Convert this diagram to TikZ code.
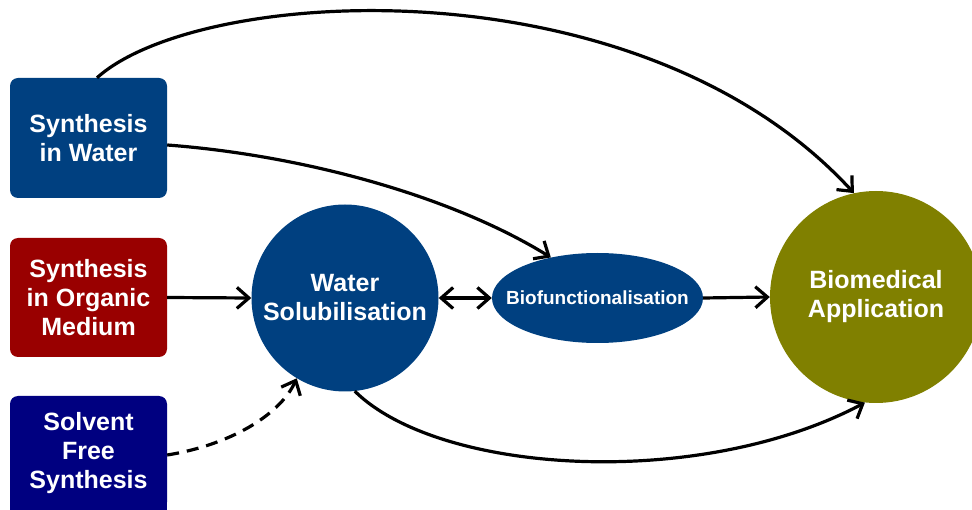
\documentclass[tikz,border=0pt]{standalone}
\usepackage{fontspec}
\setmainfont{Liberation Sans}
\usetikzlibrary{shapes.geometric,arrows.meta}
\definecolor{wblue}{RGB}{0,64,128}
\definecolor{ored}{RGB}{153,0,0}
\definecolor{snavy}{RGB}{0,0,128}
\definecolor{bolive}{RGB}{128,128,0}
\tikzset{
  txt/.style={text=white,font=\fontsize{25}{29}\selectfont\bfseries,align=center},
  srcbox/.style={txt,rectangle,rounded corners=8pt,minimum width=157pt,inner sep=0pt},
  bubble/.style={txt,circle,inner sep=0pt},
  tip/.tip={Straight Barb[length=12pt,width=21pt]},
  conn/.style={line width=3.2pt,black,-tip},
}
\begin{document}
\begin{tikzpicture}[x=1pt,y=1pt]
\useasboundingbox (0,0) rectangle (972,-510);
\clip (0,0) rectangle (972,-510);
% source boxes
\node[srcbox,fill=wblue,minimum height=120pt] (sw) at (88.5,-138) {Synthesis\\in Water};
\node[srcbox,fill=ored,minimum height=119pt] (so) at (88.5,-297.5) {Synthesis\\in Organic\\Medium};
\fill[snavy] (10,-460) rectangle (167,-515);
\node[srcbox,fill=snavy,minimum height=114pt] (sf) at (88.5,-453) {Solvent\\Free\\Synthesis};
% bubbles
\node[bubble,fill=wblue,minimum size=187pt] (ws) at (345,-298) {Water\\Solubilisation};
\node[txt,ellipse,fill=wblue,minimum width=211pt,minimum height=90pt,inner sep=0pt,font=\fontsize{19}{22}\selectfont\bfseries] (bf) at (597.5,-298) {\makebox[0pt]{Biofunctionalisation}};
\node[bubble,fill=bolive,minimum size=212pt] (bm) at (876,-297) {Biomedical\\Application};
% connectors
\draw[conn] (so.east) -- (ws.west);
\draw[conn,tip-tip] (ws.east) -- (bf.west);
\draw[conn] (bf.east) -- (bm.west);
\draw[conn] ([xshift=8.5pt]sw.north) .. controls (200,15) and (640,40) .. (bm.102);
\draw[conn] ([yshift=-7pt]sw.east) .. controls (300,-155) and (450,-195) .. (bf.139);
\draw[conn] (ws.276) .. controls (440,-475) and (700,-490) .. (bm.264);
\draw[conn,dash pattern=on 12pt off 8pt] ([yshift=-2pt]sf.east) .. controls (230,-445) and (280,-415) .. (ws.239);
\end{tikzpicture}
\end{document}
